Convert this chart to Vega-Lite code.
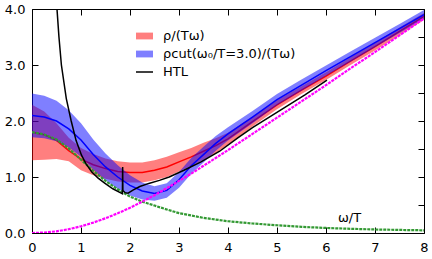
{
  "$schema": "https://vega.github.io/schema/vega-lite/v6.json",
  "width": 392,
  "height": 224,
  "autosize": {"type": "none"},
  "padding": {"left": 32, "top": 9, "right": 8, "bottom": 26},
  "config": {
    "view": {"stroke": "black", "strokeWidth": 1},
    "font": "DejaVu Sans",
    "axis": {
      "labelFont": "DejaVu Sans",
      "labelFontSize": 13,
      "labelColor": "black",
      "tickColor": "black",
      "tickWidth": 1,
      "tickSize": -6,
      "domain": false,
      "grid": false,
      "labelFlush": false,
      "labelOverlap": false
    },
    "legend": {
      "orient": "none",
      "legendX": 103,
      "legendY": 17.5,
      "title": null,
      "padding": 0,
      "symbolSize": 289,
      "labelFont": "DejaVu Sans",
      "labelFontSize": 13,
      "labelColor": "black",
      "labelOffset": 9,
      "rowPadding": 1,
      "labelLimit": 300
    }
  },
  "datasets": {
    "rband": [
      {"x": 0, "lo": 1.30, "hi": 2.29, "s": "ρ/(Tω)"},
      {"x": 0.25, "lo": 1.31, "hi": 2.17, "s": "ρ/(Tω)"},
      {"x": 0.5, "lo": 1.32, "hi": 1.96, "s": "ρ/(Tω)"},
      {"x": 0.75, "lo": 1.28, "hi": 1.70, "s": "ρ/(Tω)"},
      {"x": 1.0, "lo": 1.12, "hi": 1.52, "s": "ρ/(Tω)"},
      {"x": 1.25, "lo": 1.03, "hi": 1.41, "s": "ρ/(Tω)"},
      {"x": 1.5, "lo": 0.97, "hi": 1.33, "s": "ρ/(Tω)"},
      {"x": 1.75, "lo": 0.92, "hi": 1.28, "s": "ρ/(Tω)"},
      {"x": 2.0, "lo": 0.90, "hi": 1.26, "s": "ρ/(Tω)"},
      {"x": 2.25, "lo": 0.90, "hi": 1.26, "s": "ρ/(Tω)"},
      {"x": 2.5, "lo": 0.94, "hi": 1.30, "s": "ρ/(Tω)"},
      {"x": 2.75, "lo": 1.00, "hi": 1.36, "s": "ρ/(Tω)"},
      {"x": 3.0, "lo": 1.10, "hi": 1.44, "s": "ρ/(Tω)"},
      {"x": 3.25, "lo": 1.20, "hi": 1.52, "s": "ρ/(Tω)"},
      {"x": 3.5, "lo": 1.31, "hi": 1.61, "s": "ρ/(Tω)"},
      {"x": 3.75, "lo": 1.43, "hi": 1.69, "s": "ρ/(Tω)"},
      {"x": 4.0, "lo": 1.57, "hi": 1.79, "s": "ρ/(Tω)"},
      {"x": 4.5, "lo": 1.90, "hi": 2.08, "s": "ρ/(Tω)"},
      {"x": 5.0, "lo": 2.21, "hi": 2.37, "s": "ρ/(Tω)"},
      {"x": 5.5, "lo": 2.48, "hi": 2.62, "s": "ρ/(Tω)"},
      {"x": 6.0, "lo": 2.73, "hi": 2.87, "s": "ρ/(Tω)"},
      {"x": 6.5, "lo": 3.00, "hi": 3.14, "s": "ρ/(Tω)"},
      {"x": 7.0, "lo": 3.26, "hi": 3.40, "s": "ρ/(Tω)"},
      {"x": 7.5, "lo": 3.53, "hi": 3.67, "s": "ρ/(Tω)"},
      {"x": 8.0, "lo": 3.81, "hi": 3.93, "s": "ρ/(Tω)"}
    ],
    "bband": [
      {"x": 0, "lo": 1.71, "hi": 2.49, "s": "ρcut(ω₀/T=3.0)/(Tω)"},
      {"x": 0.25, "lo": 1.69, "hi": 2.45, "s": "ρcut(ω₀/T=3.0)/(Tω)"},
      {"x": 0.5, "lo": 1.64, "hi": 2.36, "s": "ρcut(ω₀/T=3.0)/(Tω)"},
      {"x": 0.75, "lo": 1.53, "hi": 2.19, "s": "ρcut(ω₀/T=3.0)/(Tω)"},
      {"x": 1.0, "lo": 1.36, "hi": 1.96, "s": "ρcut(ω₀/T=3.0)/(Tω)"},
      {"x": 1.25, "lo": 1.13, "hi": 1.67, "s": "ρcut(ω₀/T=3.0)/(Tω)"},
      {"x": 1.5, "lo": 0.94, "hi": 1.42, "s": "ρcut(ω₀/T=3.0)/(Tω)"},
      {"x": 1.75, "lo": 0.79, "hi": 1.21, "s": "ρcut(ω₀/T=3.0)/(Tω)"},
      {"x": 2.0, "lo": 0.67, "hi": 1.03, "s": "ρcut(ω₀/T=3.0)/(Tω)"},
      {"x": 2.25, "lo": 0.60, "hi": 0.90, "s": "ρcut(ω₀/T=3.0)/(Tω)"},
      {"x": 2.5, "lo": 0.575, "hi": 0.835, "s": "ρcut(ω₀/T=3.0)/(Tω)"},
      {"x": 2.75, "lo": 0.63, "hi": 0.89, "s": "ρcut(ω₀/T=3.0)/(Tω)"},
      {"x": 3.0, "lo": 0.81, "hi": 1.09, "s": "ρcut(ω₀/T=3.0)/(Tω)"},
      {"x": 3.25, "lo": 1.06, "hi": 1.34, "s": "ρcut(ω₀/T=3.0)/(Tω)"},
      {"x": 3.5, "lo": 1.26, "hi": 1.54, "s": "ρcut(ω₀/T=3.0)/(Tω)"},
      {"x": 3.75, "lo": 1.47, "hi": 1.73, "s": "ρcut(ω₀/T=3.0)/(Tω)"},
      {"x": 4.0, "lo": 1.65, "hi": 1.89, "s": "ρcut(ω₀/T=3.0)/(Tω)"},
      {"x": 4.5, "lo": 1.96, "hi": 2.18, "s": "ρcut(ω₀/T=3.0)/(Tω)"},
      {"x": 5.0, "lo": 2.28, "hi": 2.48, "s": "ρcut(ω₀/T=3.0)/(Tω)"},
      {"x": 5.5, "lo": 2.54, "hi": 2.74, "s": "ρcut(ω₀/T=3.0)/(Tω)"},
      {"x": 6.0, "lo": 2.81, "hi": 2.99, "s": "ρcut(ω₀/T=3.0)/(Tω)"},
      {"x": 6.5, "lo": 3.06, "hi": 3.24, "s": "ρcut(ω₀/T=3.0)/(Tω)"},
      {"x": 7.0, "lo": 3.315, "hi": 3.485, "s": "ρcut(ω₀/T=3.0)/(Tω)"},
      {"x": 7.5, "lo": 3.57, "hi": 3.73, "s": "ρcut(ω₀/T=3.0)/(Tω)"},
      {"x": 8.0, "lo": 3.82, "hi": 3.98, "s": "ρcut(ω₀/T=3.0)/(Tω)"}
    ],
    "red": [
      {"x": 0, "y": 1.80, "s": "ρ/(Tω)"},
      {"x": 0.25, "y": 1.755, "s": "ρ/(Tω)"},
      {"x": 0.5, "y": 1.655, "s": "ρ/(Tω)"},
      {"x": 0.75, "y": 1.47, "s": "ρ/(Tω)"},
      {"x": 1.0, "y": 1.32, "s": "ρ/(Tω)"},
      {"x": 1.25, "y": 1.22, "s": "ρ/(Tω)"},
      {"x": 1.5, "y": 1.15, "s": "ρ/(Tω)"},
      {"x": 1.75, "y": 1.10, "s": "ρ/(Tω)"},
      {"x": 2.0, "y": 1.08, "s": "ρ/(Tω)"},
      {"x": 2.25, "y": 1.08, "s": "ρ/(Tω)"},
      {"x": 2.5, "y": 1.12, "s": "ρ/(Tω)"},
      {"x": 2.75, "y": 1.18, "s": "ρ/(Tω)"},
      {"x": 3.0, "y": 1.27, "s": "ρ/(Tω)"},
      {"x": 3.25, "y": 1.36, "s": "ρ/(Tω)"},
      {"x": 3.5, "y": 1.46, "s": "ρ/(Tω)"},
      {"x": 3.75, "y": 1.56, "s": "ρ/(Tω)"},
      {"x": 4.0, "y": 1.68, "s": "ρ/(Tω)"},
      {"x": 4.5, "y": 1.99, "s": "ρ/(Tω)"},
      {"x": 5.0, "y": 2.29, "s": "ρ/(Tω)"},
      {"x": 5.5, "y": 2.55, "s": "ρ/(Tω)"},
      {"x": 6.0, "y": 2.80, "s": "ρ/(Tω)"},
      {"x": 6.5, "y": 3.07, "s": "ρ/(Tω)"},
      {"x": 7.0, "y": 3.33, "s": "ρ/(Tω)"},
      {"x": 7.5, "y": 3.60, "s": "ρ/(Tω)"},
      {"x": 8.0, "y": 3.87, "s": "ρ/(Tω)"}
    ],
    "blue": [
      {"x": 0, "y": 2.10, "s": "ρcut(ω₀/T=3.0)/(Tω)"},
      {"x": 0.25, "y": 2.07, "s": "ρcut(ω₀/T=3.0)/(Tω)"},
      {"x": 0.5, "y": 2.00, "s": "ρcut(ω₀/T=3.0)/(Tω)"},
      {"x": 0.75, "y": 1.86, "s": "ρcut(ω₀/T=3.0)/(Tω)"},
      {"x": 1.0, "y": 1.66, "s": "ρcut(ω₀/T=3.0)/(Tω)"},
      {"x": 1.25, "y": 1.40, "s": "ρcut(ω₀/T=3.0)/(Tω)"},
      {"x": 1.5, "y": 1.18, "s": "ρcut(ω₀/T=3.0)/(Tω)"},
      {"x": 1.75, "y": 1.00, "s": "ρcut(ω₀/T=3.0)/(Tω)"},
      {"x": 2.0, "y": 0.85, "s": "ρcut(ω₀/T=3.0)/(Tω)"},
      {"x": 2.25, "y": 0.75, "s": "ρcut(ω₀/T=3.0)/(Tω)"},
      {"x": 2.5, "y": 0.705, "s": "ρcut(ω₀/T=3.0)/(Tω)"},
      {"x": 2.75, "y": 0.76, "s": "ρcut(ω₀/T=3.0)/(Tω)"},
      {"x": 3.0, "y": 0.95, "s": "ρcut(ω₀/T=3.0)/(Tω)"},
      {"x": 3.25, "y": 1.20, "s": "ρcut(ω₀/T=3.0)/(Tω)"},
      {"x": 3.5, "y": 1.40, "s": "ρcut(ω₀/T=3.0)/(Tω)"},
      {"x": 3.75, "y": 1.60, "s": "ρcut(ω₀/T=3.0)/(Tω)"},
      {"x": 4.0, "y": 1.77, "s": "ρcut(ω₀/T=3.0)/(Tω)"},
      {"x": 4.5, "y": 2.07, "s": "ρcut(ω₀/T=3.0)/(Tω)"},
      {"x": 5.0, "y": 2.38, "s": "ρcut(ω₀/T=3.0)/(Tω)"},
      {"x": 5.5, "y": 2.64, "s": "ρcut(ω₀/T=3.0)/(Tω)"},
      {"x": 6.0, "y": 2.90, "s": "ρcut(ω₀/T=3.0)/(Tω)"},
      {"x": 6.5, "y": 3.15, "s": "ρcut(ω₀/T=3.0)/(Tω)"},
      {"x": 7.0, "y": 3.40, "s": "ρcut(ω₀/T=3.0)/(Tω)"},
      {"x": 7.5, "y": 3.65, "s": "ρcut(ω₀/T=3.0)/(Tω)"},
      {"x": 8.0, "y": 3.90, "s": "ρcut(ω₀/T=3.0)/(Tω)"}
    ],
    "htl": [
      {"x": 0.45, "y": 5.0, "s": "HTL"},
      {"x": 0.51, "y": 4.0, "s": "HTL"},
      {"x": 0.55, "y": 3.5, "s": "HTL"},
      {"x": 0.60, "y": 3.0, "s": "HTL"},
      {"x": 0.70, "y": 2.4, "s": "HTL"},
      {"x": 0.80, "y": 2.0, "s": "HTL"},
      {"x": 0.90, "y": 1.65, "s": "HTL"},
      {"x": 1.01, "y": 1.39, "s": "HTL"},
      {"x": 1.10, "y": 1.24, "s": "HTL"},
      {"x": 1.22, "y": 1.09, "s": "HTL"},
      {"x": 1.35, "y": 0.98, "s": "HTL"},
      {"x": 1.49, "y": 0.885, "s": "HTL"},
      {"x": 1.65, "y": 0.79, "s": "HTL"},
      {"x": 1.80, "y": 0.72, "s": "HTL"},
      {"x": 1.845, "y": 0.70, "s": "HTL"},
      {"x": 1.85, "y": 1.18, "s": "HTL"},
      {"x": 1.855, "y": 0.76, "s": "HTL"},
      {"x": 1.90, "y": 0.72, "s": "HTL"},
      {"x": 1.96, "y": 0.71, "s": "HTL"},
      {"x": 2.06, "y": 0.765, "s": "HTL"},
      {"x": 2.20, "y": 0.83, "s": "HTL"},
      {"x": 2.40, "y": 0.89, "s": "HTL"},
      {"x": 2.60, "y": 0.94, "s": "HTL"},
      {"x": 2.80, "y": 1.00, "s": "HTL"},
      {"x": 3.10, "y": 1.12, "s": "HTL"},
      {"x": 3.45, "y": 1.27, "s": "HTL"},
      {"x": 3.83, "y": 1.46, "s": "HTL"},
      {"x": 4.20, "y": 1.70, "s": "HTL"},
      {"x": 4.50, "y": 1.88, "s": "HTL"},
      {"x": 4.90, "y": 2.10, "s": "HTL"},
      {"x": 5.57, "y": 2.465, "s": "HTL"},
      {"x": 6.02, "y": 2.73, "s": "HTL"}
    ],
    "green": [
      {"x": 0, "y": 1.80},
      {"x": 0.25, "y": 1.76},
      {"x": 0.5, "y": 1.67},
      {"x": 0.75, "y": 1.51},
      {"x": 1.0, "y": 1.31},
      {"x": 1.25, "y": 1.11},
      {"x": 1.5, "y": 0.93},
      {"x": 1.75, "y": 0.78},
      {"x": 2.0, "y": 0.65},
      {"x": 2.25, "y": 0.56},
      {"x": 2.5, "y": 0.49},
      {"x": 2.75, "y": 0.42},
      {"x": 3.0, "y": 0.355},
      {"x": 3.5, "y": 0.27},
      {"x": 4.0, "y": 0.21},
      {"x": 4.5, "y": 0.17},
      {"x": 5.0, "y": 0.138},
      {"x": 5.5, "y": 0.11},
      {"x": 6.0, "y": 0.09},
      {"x": 6.5, "y": 0.075},
      {"x": 7.0, "y": 0.063},
      {"x": 7.5, "y": 0.055},
      {"x": 8.0, "y": 0.048}
    ],
    "mag": [
      {"x": 0, "y": 0},
      {"x": 0.25, "y": 0.008},
      {"x": 0.5, "y": 0.03},
      {"x": 0.75, "y": 0.068},
      {"x": 1.0, "y": 0.12},
      {"x": 1.25, "y": 0.185},
      {"x": 1.5, "y": 0.263},
      {"x": 1.75, "y": 0.352},
      {"x": 2.0, "y": 0.45},
      {"x": 2.25, "y": 0.56},
      {"x": 2.5, "y": 0.675},
      {"x": 2.75, "y": 0.80},
      {"x": 3.0, "y": 0.93},
      {"x": 3.25, "y": 1.06},
      {"x": 3.5, "y": 1.20},
      {"x": 3.75, "y": 1.34},
      {"x": 4.0, "y": 1.48},
      {"x": 4.5, "y": 1.77},
      {"x": 5.0, "y": 2.06},
      {"x": 5.5, "y": 2.35},
      {"x": 6.0, "y": 2.64},
      {"x": 6.5, "y": 2.94},
      {"x": 7.0, "y": 3.23},
      {"x": 7.5, "y": 3.53},
      {"x": 8.0, "y": 3.83}
    ]
  },
  "layer": [
    {
      "layer": [
        {
          "data": {"name": "rband"},
          "mark": {"type": "area", "opacity": 0.5, "clip": true},
          "encoding": {
            "x": {
              "field": "x", "type": "quantitative",
              "scale": {"domain": [0, 8], "nice": false},
              "axis": {
                "orient": "bottom",
                "values": [0, 1, 2, 3, 4, 5, 6, 7, 8],
                "format": "d",
                "labelPadding": 14,
                "title": "ω/T",
                "titleFont": "DejaVu Sans",
                "titleFontSize": 13,
                "titleFontWeight": "normal",
                "titleColor": "black",
                "titleAlign": "center",
                "titleBaseline": "alphabetic",
                "titleX": 317,
                "titleY": -12
              }
            },
            "y": {
              "field": "lo", "type": "quantitative",
              "scale": {"domain": [0, 4], "nice": false},
              "axis": {
                "orient": "left",
                "values": [0, 0.5, 1, 1.5, 2, 2.5, 3, 3.5, 4],
                "labelExpr": "datum.value % 1 === 0 ? format(datum.value, '.1f') : ''",
                "labelPadding": 13,
                "title": null
              }
            },
            "y2": {"field": "hi"},
            "color": {
              "field": "s", "type": "nominal",
              "scale": {
                "domain": ["ρ/(Tω)", "ρcut(ω₀/T=3.0)/(Tω)", "HTL"],
                "range": ["#ff0000", "#0000ff", "#000000"]
              },
              "legend": {
                "encode": {
                  "symbols": {
                    "update": {
                      "shape": {"signal": "datum.value === 'HTL' ? 'stroke' : 'M-1,-0.4H1V0.4H-1Z'"},
                      "strokeWidth": {"value": 1.5},
                      "opacity": {"value": 1},
                      "fillOpacity": {"value": 0.5},
                      "strokeOpacity": {"signal": "datum.value === 'HTL' ? 1 : 0"}
                    }
                  }
                }
              }
            }
          }
        },
        {
          "data": {"name": "red"},
          "mark": {"type": "line", "strokeWidth": 1.5, "clip": true},
          "encoding": {
            "x": {"field": "x", "type": "quantitative"},
            "y": {"field": "y", "type": "quantitative"},
            "color": {
              "field": "s", "type": "nominal",
              "legend": {
                "encode": {
                  "symbols": {
                    "update": {
                      "shape": {"signal": "datum.value === 'HTL' ? 'stroke' : 'M-1,-0.4H1V0.4H-1Z'"},
                      "strokeWidth": {"value": 1.5},
                      "opacity": {"value": 1},
                      "fillOpacity": {"value": 0.5},
                      "strokeOpacity": {"signal": "datum.value === 'HTL' ? 1 : 0"}
                    }
                  }
                }
              }
            }
          }
        },
        {
          "data": {"name": "bband"},
          "mark": {"type": "area", "opacity": 0.5, "clip": true},
          "encoding": {
            "x": {"field": "x", "type": "quantitative"},
            "y": {"field": "lo", "type": "quantitative"},
            "y2": {"field": "hi"},
            "color": {
              "field": "s", "type": "nominal",
              "legend": {
                "encode": {
                  "symbols": {
                    "update": {
                      "shape": {"signal": "datum.value === 'HTL' ? 'stroke' : 'M-1,-0.4H1V0.4H-1Z'"},
                      "strokeWidth": {"value": 1.5},
                      "opacity": {"value": 1},
                      "fillOpacity": {"value": 0.5},
                      "strokeOpacity": {"signal": "datum.value === 'HTL' ? 1 : 0"}
                    }
                  }
                }
              }
            }
          }
        },
        {
          "data": {"name": "blue"},
          "mark": {"type": "line", "strokeWidth": 1.5, "clip": true},
          "encoding": {
            "x": {"field": "x", "type": "quantitative"},
            "y": {"field": "y", "type": "quantitative"},
            "color": {
              "field": "s", "type": "nominal",
              "legend": {
                "encode": {
                  "symbols": {
                    "update": {
                      "shape": {"signal": "datum.value === 'HTL' ? 'stroke' : 'M-1,-0.4H1V0.4H-1Z'"},
                      "strokeWidth": {"value": 1.5},
                      "opacity": {"value": 1},
                      "fillOpacity": {"value": 0.5},
                      "strokeOpacity": {"signal": "datum.value === 'HTL' ? 1 : 0"}
                    }
                  }
                }
              }
            }
          }
        },
        {
          "data": {"name": "green"},
          "mark": {"type": "line", "strokeWidth": 2.2, "color": "#339933", "strokeDash": [3, 1], "clip": true},
          "encoding": {
            "x": {"field": "x", "type": "quantitative"},
            "y": {"field": "y", "type": "quantitative"}
          }
        },
        {
          "data": {"name": "htl"},
          "mark": {"type": "line", "strokeWidth": 1.5, "clip": true},
          "encoding": {
            "x": {"field": "x", "type": "quantitative"},
            "y": {"field": "y", "type": "quantitative"},
            "color": {
              "field": "s", "type": "nominal",
              "legend": {
                "encode": {
                  "symbols": {
                    "update": {
                      "shape": {"signal": "datum.value === 'HTL' ? 'stroke' : 'M-1,-0.4H1V0.4H-1Z'"},
                      "strokeWidth": {"value": 1.5},
                      "opacity": {"value": 1},
                      "fillOpacity": {"value": 0.5},
                      "strokeOpacity": {"signal": "datum.value === 'HTL' ? 1 : 0"}
                    }
                  }
                }
              }
            }
          }
        }
      ]
    },
    {
      "data": {"name": "mag"},
      "mark": {"type": "line", "strokeWidth": 2.2, "color": "#ff00ff", "strokeDash": [3, 1], "clip": true},
      "encoding": {
        "x": {
          "field": "x", "type": "quantitative",
          "axis": {"orient": "top", "values": [0, 1, 2, 3, 4, 5, 6, 7, 8], "labels": false, "title": null}
        },
        "y": {
          "field": "y", "type": "quantitative",
          "axis": {"orient": "right", "values": [0, 0.5, 1, 1.5, 2, 2.5, 3, 3.5, 4], "labels": false, "title": null}
        }
      }
    }
  ],
  "resolve": {"axis": {"x": "independent", "y": "independent"}}
}
